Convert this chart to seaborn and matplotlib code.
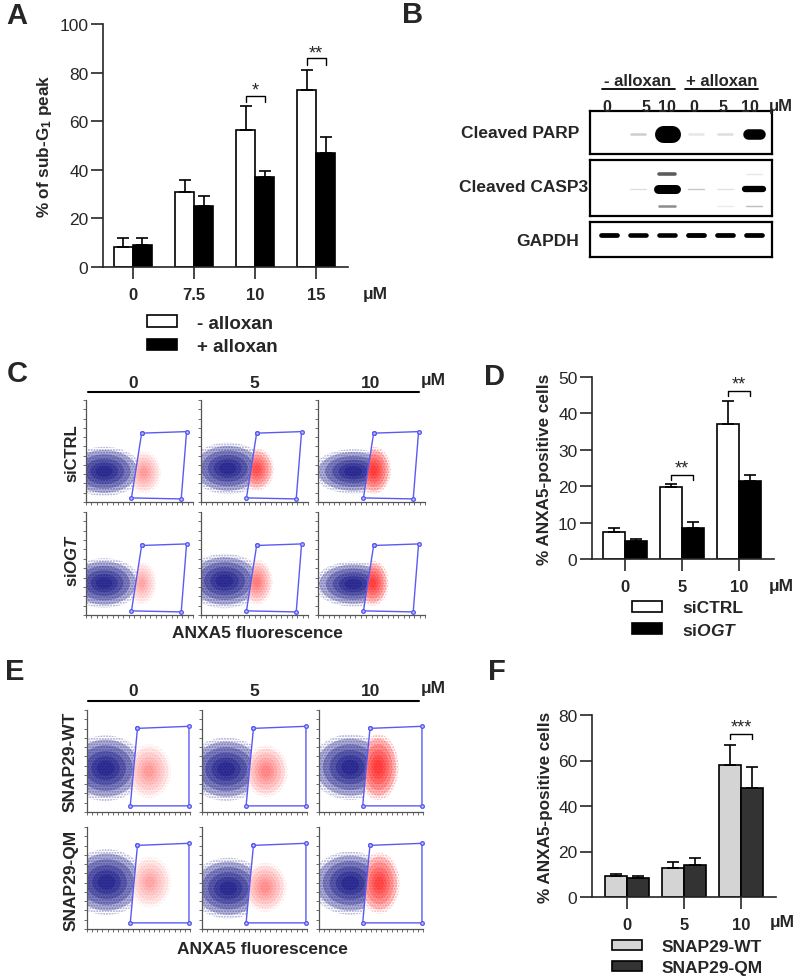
import numpy as np
import pandas as pd
import matplotlib.pyplot as plt
import seaborn as sns
from matplotlib.patches import Ellipse, Polygon, Patch

sns.set_style('ticks')
plt.rcParams['font.family'] = ['Liberation Sans', 'DejaVu Sans']
plt.rcParams['mathtext.fontset'] = 'custom'
plt.rcParams['mathtext.rm'] = 'Liberation Sans:bold'
plt.rcParams['mathtext.it'] = 'Liberation Sans:italic:bold'
plt.rcParams['mathtext.bf'] = 'Liberation Sans:bold'

# ---- panel A : sub-G1 peak ----
a_doses = ['0', '7.5', '10', '15']
a_groups = ['- alloxan', '+ alloxan']
a_minus = [8.2, 30.8, 56.2, 73.0]
a_minus_err = [3.7, 5.1, 10.2, 8.1]
a_plus = [8.9, 25.3, 37.0, 46.8]
a_plus_err = [3.0, 4.0, 2.7, 6.5]
a_sig_dose = ['10', '15']
a_sig_text = ['*', '**']
a_sig_y = [70.5, 85.9]

# ---- panel B : western blot band strength per lane ----
b_lanes = ['0', '5', '10', '0', '5', '10']
b_parp = [0.0, 0.12, 1.0, 0.06, 0.08, 0.62]
b_casp3_upper = [0.0, 0.0, 0.4, 0.0, 0.0, 0.06]
b_casp3 = [0.0, 0.08, 1.0, 0.14, 0.07, 0.7]
b_casp3_lower = [0.0, 0.0, 0.28, 0.0, 0.05, 0.16]
b_gapdh = [0.95, 0.92, 0.92, 0.97, 0.95, 0.95]

# ---- panel D : ANXA5 siCTRL / siOGT ----
d_doses = ['0', '5', '10']
d_groups = ['siCTRL', 'si$\\mathit{OGT}$']
d_ctrl = [7.3, 19.8, 37.0]
d_ctrl_err = [1.1, 0.8, 6.4]
d_ogt = [5.0, 8.6, 21.4]
d_ogt_err = [0.5, 1.5, 1.8]
d_sig_dose = ['5', '10']
d_sig_text = ['**', '**']
d_sig_y = [23.1, 46.2]

# ---- panel F : ANXA5 SNAP29-WT / QM ----
f_doses = ['0', '5', '10']
f_groups = ['SNAP29-WT', 'SNAP29-QM']
f_wt = [9.25, 12.9, 58.0]
f_wt_err = [1.05, 2.5, 8.8]
f_qm = [8.2, 13.9, 47.7]
f_qm_err = [1.05, 3.1, 9.6]
f_sig_dose = ['10']
f_sig_text = ['***']
f_sig_y = [71.8]

# ---- flow plots: gate corners (TL, TR, BR, BL) and clouds (cx, cy, w, h, density) ----
c_gate = [(0.52, 0.675), (0.94, 0.69), (0.89, 0.03), (0.425, 0.04)]
e_gate = [(0.49, 0.82), (0.99, 0.84), (0.99, 0.06), (0.42, 0.06)]
c_blue = [[(0.17, 0.30, 0.62, 0.42, 1.0), (0.25, 0.33, 0.62, 0.44, 1.0), (0.33, 0.30, 0.66, 0.38, 1.0)],
          [(0.17, 0.31, 0.60, 0.42, 1.0), (0.22, 0.33, 0.64, 0.46, 1.0), (0.33, 0.30, 0.64, 0.38, 1.0)]]
c_red = [[(0.54, 0.29, 0.28, 0.36, 0.35), (0.52, 0.32, 0.28, 0.36, 0.8), (0.52, 0.31, 0.28, 0.40, 1.0)],
         [(0.52, 0.31, 0.24, 0.36, 0.3), (0.52, 0.32, 0.26, 0.38, 0.5), (0.51, 0.31, 0.26, 0.38, 0.95)]]
e_blue = [[(0.18, 0.43, 0.66, 0.56, 1.0), (0.23, 0.42, 0.66, 0.54, 1.0), (0.30, 0.44, 0.66, 0.56, 1.0)],
          [(0.19, 0.46, 0.66, 0.56, 1.0), (0.25, 0.40, 0.64, 0.52, 1.0), (0.30, 0.45, 0.66, 0.54, 1.0)]]
e_red = [[(0.60, 0.40, 0.38, 0.46, 0.35), (0.61, 0.40, 0.36, 0.44, 0.45), (0.57, 0.44, 0.34, 0.56, 1.0)],
         [(0.61, 0.46, 0.36, 0.44, 0.3), (0.60, 0.41, 0.36, 0.42, 0.4), (0.58, 0.45, 0.34, 0.52, 0.9)]]

W, H = 800, 978
fig = plt.figure(figsize=(W / 100, H / 100), dpi=100)


def px_box(x0, y0, x1, y1):
    return [x0 / W, 1 - y1 / H, (x1 - x0) / W, (y1 - y0) / H]


canvas = fig.add_axes([0, 0, 1, 1])
canvas.set_xlim(0, W)
canvas.set_ylim(H, 0)
canvas.axis('off')
canvas.set_zorder(10)


def put(x, y, s, size=12, weight='bold', **kw):
    canvas.text(x, y, s, fontsize=size, fontweight=weight, ha=kw.pop('ha', 'center'),
                va=kw.pop('va', 'center'), **kw)


def bar_panel(box, doses, groups, series, errs, colors, ylim, yticks, width,
              ylabel, sig, leg_xy, leg_size, um_xy):
    ax = fig.add_axes(px_box(*box[:4]))
    df = pd.DataFrame({'dose': doses * len(groups),
                       'group': np.repeat(groups, len(doses)),
                       'pct': np.concatenate(series)})
    sns.barplot(data=df, x='dose', y='pct', hue='group', order=doses, hue_order=groups,
                palette=colors, width=width, edgecolor='black', linewidth=1.2,
                errorbar=None, saturation=1, legend=False, ax=ax)
    for cont, err in zip(ax.containers, errs):
        xs = [b.get_x() + b.get_width() / 2 for b in cont]
        tops = [b.get_height() for b in cont]
        ax.errorbar(xs, tops, yerr=[np.zeros(len(err)), err], fmt='none', ecolor='black',
                    elinewidth=1.2, capsize=4, capthick=1.2, zorder=3)
    drop = (ylim[1] - ylim[0]) * 0.028
    for d, txt, y in zip(*sig):
        i = doses.index(d)
        b1, b2 = ax.containers[0][i], ax.containers[1][i]
        x1 = b1.get_x() + b1.get_width() / 2
        x2 = b2.get_x() + b2.get_width() / 2
        ax.plot([x1, x1, x2, x2], [y - drop, y, y, y - drop], color='black', lw=1)
        ax.text((x1 + x2) / 2, y - drop * 0.4, txt, ha='center', va='bottom', fontsize=13)
    ax.set_xlim(box[4], box[5])
    ax.set_ylim(*ylim)
    ax.set_yticks(yticks)
    sns.despine(ax=ax)
    for s in ['left', 'bottom']:
        ax.spines[s].set_linewidth(1.2)
    ax.tick_params(axis='both', length=8.5, width=1.2, direction='out')
    ax.tick_params(axis='y', labelsize=12.5, pad=2)
    ax.tick_params(axis='x', labelsize=12, pad=6)
    plt.setp(ax.get_xticklabels(), fontweight='bold')
    ax.set_xlabel('')
    ax.set_ylabel(ylabel, fontsize=12.3, fontweight='bold', labelpad=4)
    handles = [Patch(facecolor=c, edgecolor='black', linewidth=1.2) for c in colors]
    ax.legend(handles, groups, loc='center left', bbox_to_anchor=(leg_xy[0] / W, 1 - leg_xy[1] / H),
              bbox_transform=fig.transFigure, frameon=False,
              prop=dict(weight='bold', size=leg_size), handlelength=30 / (leg_size * 1.389),
              handleheight=0.55, handletextpad=20 / (leg_size * 1.389), labelspacing=0.35,
              borderpad=0, borderaxespad=0)
    put(um_xy[0], um_xy[1], 'μM', size=12.5)
    return ax


# A
bar_panel((103, 25, 348, 268, -0.49, 3.52), a_doses, a_groups, [a_minus, a_plus],
          [a_minus_err, a_plus_err], ['white', 'black'], (0, 100), [0, 20, 40, 60, 80, 100], 0.62,
          '% of sub-G$_1$ peak', (a_sig_dose, a_sig_text, a_sig_y), (147, 336), 13.5, (375, 295))
# D
bar_panel((592, 378, 774, 560, -0.58, 2.61), d_doses, d_groups, [d_ctrl, d_ogt],
          [d_ctrl_err, d_ogt_err], ['white', 'black'], (0, 50), [0, 10, 20, 30, 40, 50], 0.78,
          '% ANXA5-positive cells', (d_sig_dose, d_sig_text, d_sig_y), (632, 620), 12.5, (781, 586))
# F
bar_panel((592, 716, 776, 898, -0.61, 2.61), f_doses, f_groups, [f_wt, f_qm],
          [f_wt_err, f_qm_err], ['#d4d4d4', '#333333'], (0, 80), [0, 20, 40, 60, 80], 0.77,
          '% ANXA5-positive cells', (f_sig_dose, f_sig_text, f_sig_y), (612, 958), 12.5, (782, 922))


# B : blot rows
def blot_row(box, rows, base_thick, base_len):
    ax = fig.add_axes(px_box(*box))
    ax.set_xlim(-0.655, 5.62)
    ax.set_ylim(0, 1)
    ax.set_xticks([])
    ax.set_yticks([])
    for s in ax.spines.values():
        s.set_linewidth(1.6)
        s.set_color('black')
    for yfrac, strength in rows:
        for lane, v in enumerate(strength):
            if v <= 0:
                continue
            thick = base_thick * max(v, 0.15)
            length = base_len * (0.6 + 0.4 * v)
            half = max(length - thick, 1) / 2 / 29
            shade = 1 - min(1.0, 1.6 * v)
            ax.plot([lane - half, lane + half], [yfrac, yfrac], color=str(shade),
                    lw=thick * 0.72, solid_capstyle='round')


blot_row((590, 112, 772, 155), [(0.47, b_parp)], 17, 26)
blot_row((590, 161, 772, 217), [(0.75, b_casp3_upper), (0.48, b_casp3), (0.18, b_casp3_lower)], 9, 27)
blot_row((590, 223, 772, 258), [(0.62, b_gapdh)], 5, 22)

put(638, 81, '- alloxan')
put(722, 81, '+ alloxan')
canvas.plot([602, 675], [90, 90], color='black', lw=1.3)
canvas.plot([685, 758], [90, 90], color='black', lw=1.3)
for x, s in zip([607, 646, 667, 694, 723, 750], b_lanes):
    put(x, 107, s, size=11.5)
put(781, 107, 'μM', size=12)
put(579, 133, 'Cleaved PARP', ha='right', size=12.5)
put(588, 188, 'Cleaved CASP3', ha='right', size=12.5)
put(579, 242, 'GAPDH', ha='right', size=12.5)


# C / E : flow plots
def cloud(ax, p, color, clip, base):
    cx, cy, w, h, dens = p
    halo = Ellipse((cx, cy), w * 1.15, h * 1.15, fill=False, hatch='......', edgecolor=color,
                   linewidth=0, alpha=0.35 * dens, transform=ax.transAxes)
    ax.add_patch(halo)
    halo.set_clip_path(clip)
    for s in [1.0, 0.8, 0.6, 0.42, 0.26]:
        e = Ellipse((cx, cy), w * s, h * s, facecolor=color, edgecolor='none',
                    alpha=base * dens, transform=ax.transAxes)
        ax.add_patch(e)
        e.set_clip_path(clip)


def flow_plot(box, gate, blue, red):
    ax = fig.add_axes(px_box(*box))
    ax.set_xlim(0, 1)
    ax.set_ylim(0, 1)
    sns.despine(ax=ax)
    for s in ['left', 'bottom']:
        ax.spines[s].set_linewidth(0.9)
        ax.spines[s].set_color('#555555')
    ax.set_xticks(np.linspace(0, 1, 21))
    ax.set_yticks(np.linspace(0, 1, 12))
    ax.tick_params(length=2, width=0.6, colors='#555555', labelbottom=False, labelleft=False)
    tl, bl = gate[0], gate[3]
    slope = (tl[0] - bl[0]) / (tl[1] - bl[1])
    x0 = bl[0] - slope * bl[1]
    left_clip = Polygon([(0, 0), (x0, 0), (x0 + slope, 1), (0, 1)], transform=ax.transAxes)
    gate_clip = Polygon(gate, transform=ax.transAxes)
    cloud(ax, blue, '#0a0a80', left_clip, 0.3)
    cloud(ax, red, '#ff1010', gate_clip, 0.26)
    gx = [g[0] for g in gate] + [gate[0][0]]
    gy = [g[1] for g in gate] + [gate[0][1]]
    ax.plot(gx, gy, color='#5a5af2', lw=1, marker='o', ms=2.6, mfc='#c8c8ff', mec='#5a5af2',
            clip_on=False, zorder=5)


c_cols = [(86, 193), (201, 308), (318, 425)]
c_rows = [(401, 503), (513, 616)]
e_cols = [(87, 190), (202, 307), (319, 423)]
e_rows = [(711, 813), (828, 930)]
for r, (y0, y1) in enumerate(c_rows):
    for c, (x0, x1) in enumerate(c_cols):
        flow_plot((x0, y0, x1, y1), c_gate, c_blue[r][c], c_red[r][c])
for r, (y0, y1) in enumerate(e_rows):
    for c, (x0, x1) in enumerate(e_cols):
        flow_plot((x0, y0, x1, y1), e_gate, e_blue[r][c], e_red[r][c])

for ytxt, yline in [(384, 393), (692, 702)]:
    canvas.plot([88, 419], [yline, yline], color='black', lw=1.5)
    for x, s in zip([133, 254, 371], d_doses):
        put(x, ytxt, s, size=12.5)
    put(433, ytxt - 3, 'μM', size=12.5)
put(72, 453, 'siCTRL', rotation=90)
put(72, 560, 'si$\\mathit{OGT}$', rotation=90)
put(70, 762, 'SNAP29-WT', rotation=90, size=12.5)
put(71, 880, 'SNAP29-QM', rotation=90, size=12.5)
put(257, 633, 'ANXA5 fluorescence', size=12.5)
put(262, 949, 'ANXA5 fluorescence', size=12.5)

# panel letters
for x, y, s in [(17, 16, 'A'), (413, 15, 'B'), (17, 374, 'C'), (495, 377, 'D'),
                (15, 672, 'E'), (497, 672, 'F')]:
    put(x, y, s, size=21)

fig.savefig('out.png', dpi=100)
